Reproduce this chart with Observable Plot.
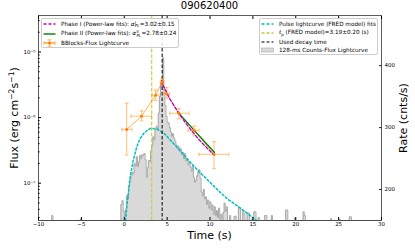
<!DOCTYPE html>
<html>
<head>
<meta charset="utf-8">
<script src="https://cdn.jsdelivr.net/npm/d3@7"></script>
<script src="https://cdn.jsdelivr.net/npm/@observablehq/plot@0.6"></script>
<style>
  body { margin: 0; background: #fff; font-family: "DejaVu Sans", sans-serif; }
  #wrap { position: relative; width: 415px; height: 249px; overflow: hidden; background: #fff; }
  .txt { position: absolute; white-space: nowrap; color: #000; }
  .legend { position: absolute; background: rgba(255,255,255,0.85); border: 0.8px solid #cccccc; border-radius: 2px; box-sizing: border-box; font-size: 5.7px; }
  .row { display: flex; align-items: center; height: 9.3px; white-space: nowrap; }
  .row svg { flex: none; margin-left: 1px; margin-right: 5px; }
  .st { display: inline-flex; flex-direction: column; font-size: 0.7em; line-height: 0.9; vertical-align: middle; margin: 0 0.4px; }
</style>
</head>
<body>
<div id="wrap"></div>
<script>
// ---------------- data ----------------
const titleText = "090620400";
const xTicks = [-10, -5, 0, 5, 10, 15, 20, 25, 30];
const fluxTicks = [1e-7, 1e-6, 1e-5];
const fluxTickLabels = ["10\u207B\u2077", "10\u207B\u2076", "10\u207B\u2075"];
const rateTicks = [200, 300, 400];

// BBlocks flux light curve
const bbT      = [0.28, 2.02, 3.65, 4.42, 4.93, 6.36, 8.14, 10.47];
const bbTLo    = [-0.27, 0.78, 3.25, 4.22, 4.55, 5.31, 7.44, 8.72];
const bbTHi    = [0.90, 3.19, 4.05, 4.62, 5.30, 7.56, 8.72, 12.20];
const bbFlux   = [6.6e-7, 1.05e-6, 2.19e-6, 3.48e-6, 2.32e-6, 1.16e-6, 6.4e-7, 2.75e-7];
const bbFluxLo = [2.7e-7, 8.9e-7, 1.83e-6, 3.17e-6, 1.96e-6, 9.6e-7, 5.4e-7, 1.67e-7];
const bbFluxHi = [1.66e-6, 1.26e-6, 2.63e-6, 4.01e-6, 2.86e-6, 1.37e-6, 7.4e-7, 4.3e-7];

// Phase I power-law fit (magenta dashed)
const phase1T = [4.35, 4.53, 4.93, 5.3, 5.7, 6.0, 7.25, 8.8, 10.35];
const phase1F = [3.7e-6, 3.15e-6, 2.45e-6, 1.95e-6, 1.6e-6, 1.38e-6, 8.0e-7, 4.5e-7, 2.8e-7];
// Phase II power-law fit (green)
const phase2T = [6.3, 8.4, 10.5];
const phase2F = [1.19e-6, 5.9e-7, 2.97e-7];

// FRED pulse model (rate units)
const fredT = [0.15, 0.3, 0.45, 0.7, 1.05, 1.44, 1.83, 2.3, 2.8, 3.2, 3.9, 4.7, 5.5, 6.3, 7.64, 8.8, 9.97, 11.0, 12.1, 13.26, 14.4, 15.4];
const fredR = [150, 172, 192, 222, 247, 268, 282, 291, 297, 299, 297, 290, 278, 266, 245, 228, 212, 198, 184, 173, 161, 150];

const tPeak = 3.19;
const tDecay = 4.42;

// 128-ms counts light curve (rate, cnts/s)
const histStart = -0.384;
const binWidth = 0.128;
const histRates = [
  176,182,165,156,168,190,185,205,215,222,228,226,242,238,253,237,245,255,250,256,
  255,258,248,220,235,247,245,262,271,285,280,296,302,298,323,350,371,365,413,360,
  336,318,309,307,300,293,286,290,283,278,272,266,270,262,266,256,260,250,258,246,
  250,240,245,236,230,238,220,212,215,222,228,232,218,196,190,200,185,188,176,183,
  170,180,167,175,160,172,158,166,155,170,152,160,150,163,178,165,172,150,148,158,
  145,150,145,156,157,148,145,172,170,148,150,167,160,145,150,162,162,148,145,152,
  145,164,164,148,145,155,150,145
];
const spikeT = [-8.448, -5.12, 16.384, 16.512, 17.152, 18.816, 18.944, 19.84, 20.864, 20.992, 24.064, 25.088, 26.24, 26.368];
const spikeR = [158, 152, 158, 158, 158, 167, 167, 154, 164, 158, 153, 152, 156, 156];

const xDomain = [-10, 30];
const fluxDomain = [2.7e-8, 3.6e-5];
const rateDomain = [150, 481];

// ---------------- derived tables ----------------
const bins = histRates.map((v, i) => ({t: histStart + i * binWidth, v}))
  .concat(spikeT.map((t, i) => ({t, v: spikeR[i]})))
  .sort((a, b) => a.t - b.t);
const base = rateDomain[0];
const histSeries = [{t: xDomain[0], v: base}];
let end = xDomain[0];
for (const b of bins) {
  if (b.t > end + 1e-6) histSeries.push({t: end, v: base});
  histSeries.push({t: b.t, v: b.v});
  end = b.t + binWidth;
}
histSeries.push({t: end, v: base});
histSeries.push({t: xDomain[1], v: base});

const fred = fredT.map((t, i) => ({t, r: fredR[i]}));
const bb = bbT.map((t, i) => ({t, f: bbFlux[i], tlo: bbTLo[i], thi: bbTHi[i], flo: bbFluxLo[i], fhi: bbFluxHi[i]}));
const vcaps = bb.flatMap(d => [{t: d.t, f: d.flo}, {t: d.t, f: d.fhi}]);
const hcaps = bb.flatMap(d => [{t: d.tlo, f: d.f}, {t: d.thi, f: d.f}]);
const p1 = phase1T.map((t, i) => ({t, f: phase1F[i]}));
const p2 = phase2T.map((t, i) => ({t, f: phase2F[i]}));

const capH = {draw(ctx, size) { const r = Math.sqrt(size / Math.PI); ctx.moveTo(-r, 0); ctx.lineTo(r, 0); }};
const capV = {draw(ctx, size) { const r = Math.sqrt(size / Math.PI); ctx.moveTo(0, -r); ctx.lineTo(0, r); }};

const W = 415, H = 249;
const M = {marginLeft: 38, marginRight: 34, marginTop: 15, marginBottom: 29};
const font = "DejaVu Sans";
const tickFont = 5.5;
const orange = "#ff8c00";

// ---------------- rate plot (underneath) ----------------
const ratePlot = Plot.plot({
  width: W, height: H, ...M,
  style: {position: "absolute", left: "0px", top: "0px", background: "white", fontFamily: font},
  x: {domain: xDomain, axis: null},
  y: {domain: rateDomain, clamp: true},
  marks: [
    Plot.areaY(histSeries, {x: "t", y1: () => base, y2: "v", curve: "step-after", fill: "#d9d9d9"}),
    Plot.lineY(histSeries, {x: "t", y: "v", curve: "step-after", stroke: "#a8a8a8", strokeWidth: 1}),
    Plot.line(fred, {x: "t", y: "r", stroke: "#00bfbf", strokeWidth: 1.5, strokeDasharray: "2,2.2"}),
    Plot.axisY({anchor: "right", ticks: rateTicks, tickSize: -3, tickPadding: 6, fontSize: tickFont, label: null, stroke: "#222"})
  ]
});

// ---------------- flux plot (on top) ----------------
const fluxMinor = [];
for (let e = -8; e <= -5; e++) for (let m = 2; m <= 9; m++) {
  const v = m * Math.pow(10, e);
  if (v >= fluxDomain[0] && v <= fluxDomain[1]) fluxMinor.push(v);
}
const fluxPlot = Plot.plot({
  width: W, height: H, ...M,
  style: {position: "absolute", left: "0px", top: "0px", background: "transparent", fontFamily: font},
  x: {domain: xDomain},
  y: {type: "log", domain: fluxDomain},
  marks: [
    Plot.ruleX([tPeak], {stroke: "#c8c83a", strokeOpacity: 0.8, strokeWidth: 1.4, strokeDasharray: "4,1.6"}),
    Plot.ruleX([tDecay], {stroke: "black", strokeWidth: 1, strokeDasharray: "3.5,2"}),
    Plot.ruleX(bb, {x: "t", y1: "flo", y2: "fhi", stroke: orange, strokeOpacity: 0.45, strokeWidth: 1.2}),
    Plot.ruleY(bb, {y: "f", x1: "tlo", x2: "thi", stroke: orange, strokeOpacity: 0.45, strokeWidth: 1.2}),
    Plot.dot(vcaps, {x: "t", y: "f", symbol: capH, r: 2, stroke: orange, strokeOpacity: 0.45, strokeWidth: 1.2}),
    Plot.dot(hcaps, {x: "t", y: "f", symbol: capV, r: 2, stroke: orange, strokeOpacity: 0.45, strokeWidth: 1.2}),
    Plot.line(bb, {x: "t", y: "f", stroke: orange, strokeWidth: 0.8, strokeOpacity: 0.85}),
    Plot.line(p2, {x: "t", y: "f", stroke: "#008000", strokeWidth: 1.4}),
    Plot.line(p1, {x: "t", y: "f", stroke: "#bf00bf", strokeWidth: 1.3, strokeDasharray: "3,2", curve: "monotone-x"}),
    Plot.dot(bb, {x: "t", y: "f", r: 1.5, fill: "#ff7f0e"}),
    Plot.frame({stroke: "#333", strokeWidth: 0.8}),
    Plot.axisX({anchor: "bottom", ticks: xTicks, tickSize: -3, tickPadding: 4.5, fontSize: tickFont, label: null}),
    Plot.axisX({anchor: "top", ticks: xTicks, tickSize: -3, tickFormat: () => "", label: null}),
    Plot.axisY({anchor: "left", ticks: fluxTicks, tickSize: -3, tickPadding: 6, fontSize: tickFont, label: null,
      tickFormat: (d) => fluxTickLabels[fluxTicks.indexOf(d)]}),
    Plot.axisY({anchor: "left", ticks: fluxMinor, tickSize: -1.6, tickFormat: () => "", label: null})
  ]
});

const wrap = document.getElementById("wrap");
wrap.appendChild(ratePlot);
wrap.appendChild(fluxPlot);

// ---------------- titles & labels ----------------
function addText(html, css) {
  const d = document.createElement("div");
  d.className = "txt";
  d.innerHTML = html;
  Object.assign(d.style, css);
  wrap.appendChild(d);
  return d;
}
addText(titleText, {left: "209.5px", top: "0px", transform: "translateX(-50%)", fontSize: "10px"});
addText("Time (s)", {left: "209.5px", top: "229px", transform: "translateX(-50%)", fontSize: "11px"});
addText("Flux (erg cm<sup style='font-size:0.7em'>\u22122</sup>s<sup style='font-size:0.7em'>\u22121</sup>)",
  {left: "13.5px", top: "117.5px", transform: "translate(-50%,-50%) rotate(-90deg)", fontSize: "11px"});
addText("Rate (cnts/s)", {left: "403px", top: "117.5px", transform: "translate(-50%,-50%) rotate(-90deg)", fontSize: "11px"});

// ---------------- legends ----------------
const sample = (inner) => `<svg width="13" height="8" viewBox="0 0 13 8">${inner}</svg>`;
const leftLegend = document.createElement("div");
leftLegend.className = "legend";
Object.assign(leftLegend.style, {left: "41px", top: "18px", width: "138px", height: "30px", paddingTop: "0.6px"});
leftLegend.innerHTML = `
  <div class="row">${sample('<line x1="0.5" x2="12.5" y1="4" y2="4" stroke="#bf00bf" stroke-width="1.3" stroke-dasharray="3,2"/>')}
    <span>Phase I (Power-law fits): <i>α</i><span class="st"><span>I</span><span><i>PL</i></span></span>=3.02±0.15</span></div>
  <div class="row">${sample('<line x1="0.5" x2="12.5" y1="4" y2="4" stroke="#008000" stroke-width="1.4"/>')}
    <span>Phase II (Power-law fits): <i>α</i><span class="st"><span>II</span><span><i>PL</i></span></span>=2.78±0.24</span></div>
  <div class="row">${sample('<g stroke="#ff8c00" stroke-opacity="0.5" stroke-width="1.2"><line x1="1" x2="12" y1="4" y2="4"/><line x1="6.5" x2="6.5" y1="0.5" y2="7.5"/><line x1="4.5" x2="8.5" y1="0.8" y2="0.8"/><line x1="4.5" x2="8.5" y1="7.2" y2="7.2"/><line x1="1" x2="1" y1="2" y2="6"/><line x1="12" x2="12" y1="2" y2="6"/></g><line x1="1" x2="12" y1="4" y2="4" stroke="#ff8c00" stroke-width="0.8"/><circle cx="6.5" cy="4" r="1.5" fill="#ff7f0e"/>')}
    <span>BBlocks-Flux Lightcurve</span></div>`;
wrap.appendChild(leftLegend);

const rightLegend = document.createElement("div");
rightLegend.className = "legend";
Object.assign(rightLegend.style, {left: "259px", top: "18px", width: "119px", height: "36.5px", paddingTop: "0.6px"});
rightLegend.innerHTML = `
  <div class="row" style="height:8.8px">${sample('<line x1="0.5" x2="12.5" y1="4" y2="4" stroke="#00bfbf" stroke-width="1.4" stroke-dasharray="3,2"/>')}
    <span>Pulse lightcurve (FRED model) fits</span></div>
  <div class="row" style="height:8.8px">${sample('<line x1="0.5" x2="12.5" y1="4" y2="4" stroke="#c8c83a" stroke-width="1.4" stroke-dasharray="3,2"/>')}
    <span><i>t</i><sub style="font-size:0.7em">p</sub> (FRED model)=3.19±0.20 (s)</span></div>
  <div class="row" style="height:8.8px">${sample('<line x1="0.5" x2="12.5" y1="4" y2="4" stroke="#000" stroke-width="1" stroke-dasharray="3,2"/>')}
    <span>Used decay time</span></div>
  <div class="row" style="height:8.8px">${sample('<rect x="0.5" y="2" width="12" height="4" fill="#d9d9d9" stroke="#a8a8a8" stroke-width="0.6"/>')}
    <span>128-ms Counts-Flux Lightcurve</span></div>`;
wrap.appendChild(rightLegend);
</script>
</body>
</html>
